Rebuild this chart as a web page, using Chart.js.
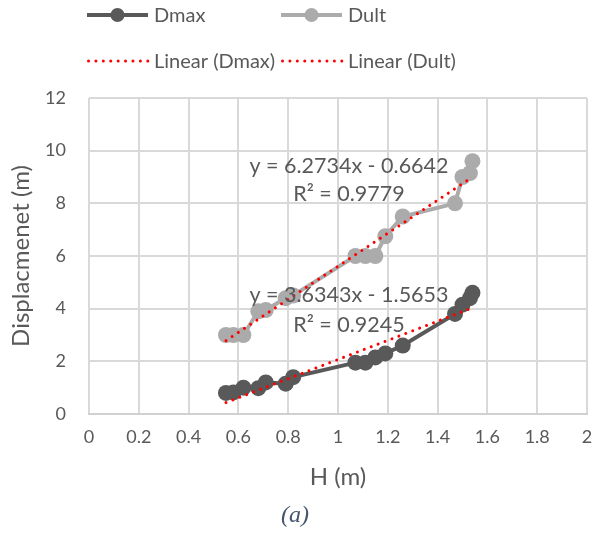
<!DOCTYPE html>
<html>
<head>
<meta charset="utf-8">
<script src="https://cdn.jsdelivr.net/npm/chart.js@4/dist/chart.umd.min.js"></script>
<style>
  html, body { margin: 0; padding: 0; background: #ffffff; }
  #wrap { width: 595px; height: 533px; position: relative; }
</style>
</head>
<body>
<div id="wrap"><canvas id="chart" width="595" height="533"></canvas></div>
<script>
// Wave height H (m) and the two displacement measurements (m)
const heights = [0.55, 0.58, 0.62, 0.68, 0.71, 0.79, 0.82, 1.07, 1.11, 1.15, 1.19, 1.26, 1.47, 1.50, 1.53, 1.54];
const dmax    = [0.80, 0.82, 1.00, 0.98, 1.20, 1.15, 1.40, 1.95, 1.95, 2.15, 2.30, 2.60, 3.80, 4.15, 4.40, 4.60];
const dult    = [3.00, 3.00, 3.00, 3.90, 3.95, 4.40, 4.50, 6.00, 6.00, 6.00, 6.75, 7.50, 8.00, 9.00, 9.15, 9.60];

// Axis ticks
const xTicks = [0, 0.2, 0.4, 0.6, 0.8, 1, 1.2, 1.4, 1.6, 1.8, 2];
const yTicks = [0, 2, 4, 6, 8, 10, 12];

// Linear trendlines (y = slope * x + intercept)
const fitDmax = { slope: 3.6343, intercept: -1.5653, r2: 0.9245 };
const fitDult = { slope: 6.2734, intercept: -0.6642, r2: 0.9779 };

const TEXT = '#595959';
const DMAX_COLOR = '#595959';
const DULT_COLOR = '#ABABAB';
const TREND_COLOR = '#FF0000';
const DOTS = [0.01, 7.4];

function points(xs, ys) { return xs.map((x, i) => ({ x: x, y: ys[i] })); }
function trend(fit, xs) {
  const lo = Math.min(...xs), hi = Math.max(...xs);
  return [lo, hi].map(x => ({ x: x, y: fit.slope * x + fit.intercept }));
}
function fmt(v) { return v.toFixed(4); }
function equation(fit) {
  const sign = fit.intercept < 0 ? ' - ' : ' + ';
  return 'y = ' + fmt(fit.slope) + 'x' + sign + fmt(Math.abs(fit.intercept));
}

// Legend: two rows, line-with-marker swatches and dotted trend swatches
const legendPlugin = {
  id: 'excelLegend',
  afterDraw(chart) {
    const ctx = chart.ctx;
    const items = [
      { label: 'Dmax', kind: 'series', color: DMAX_COLOR, x: 87, y: 15 },
      { label: 'Dult', kind: 'series', color: DULT_COLOR, x: 281, y: 15 },
      { label: 'Linear (Dmax)', kind: 'trend', color: TREND_COLOR, x: 87, y: 61 },
      { label: 'Linear (Dult)', kind: 'trend', color: TREND_COLOR, x: 281, y: 61 }
    ];
    ctx.save();
    items.forEach(it => {
      const w = 61;
      ctx.beginPath();
      ctx.strokeStyle = it.color;
      if (it.kind === 'series') {
        ctx.lineWidth = 4;
        ctx.setLineDash([]);
        ctx.lineCap = 'butt';
        ctx.moveTo(it.x, it.y); ctx.lineTo(it.x + w, it.y);
        ctx.stroke();
        ctx.beginPath();
        ctx.fillStyle = it.color;
        ctx.arc(it.x + w / 2, it.y, 7, 0, Math.PI * 2);
        ctx.fill();
      } else {
        ctx.lineWidth = 3;
        ctx.lineCap = 'round';
        ctx.setLineDash(DOTS);
        ctx.moveTo(it.x + 1.5, it.y); ctx.lineTo(it.x + w, it.y);
        ctx.stroke();
      }
      ctx.setLineDash([]);
      ctx.fillStyle = TEXT;
      ctx.font = '20px Lato';
      ctx.textAlign = 'left';
      ctx.textBaseline = 'middle';
      ctx.fillText(it.label, it.x + w + 6, it.y + 1);
    });
    ctx.restore();
  }
};

// Trendline equations, and the figure caption under the axis
const annotationPlugin = {
  id: 'trendLabels',
  afterDraw(chart) {
    const ctx = chart.ctx;
    const sx = chart.scales.x, sy = chart.scales.y;
    const labels = [
      { fit: fitDult, x: 1.044, y1: 9.43, y2: 8.37 },
      { fit: fitDmax, x: 1.044, y1: 4.53, y2: 3.39 }
    ];
    ctx.save();
    ctx.fillStyle = TEXT;
    ctx.font = '21.5px Lato';
    ctx.textAlign = 'center';
    ctx.textBaseline = 'middle';
    labels.forEach(l => {
      const px = sx.getPixelForValue(l.x);
      ctx.fillText(equation(l.fit), px, sy.getPixelForValue(l.y1));
      ctx.fillText('R\u00B2 = ' + fmt(l.fit.r2), px, sy.getPixelForValue(l.y2));
    });
    ctx.fillStyle = '#44546A';
    ctx.font = 'italic 24px "Liberation Serif"';
    ctx.fillText('(a)', 295, 516);
    ctx.restore();
  }
};

function build() {
  const ctx = document.getElementById('chart').getContext('2d');
  new Chart(ctx, {
    type: 'scatter',
    data: {
      datasets: [
        {
          label: 'Linear (Dmax)', data: trend(fitDmax, heights), showLine: true,
          borderColor: TREND_COLOR, borderWidth: 3, borderDash: DOTS, borderCapStyle: 'round',
          pointRadius: 0, order: 0
        },
        {
          label: 'Linear (Dult)', data: trend(fitDult, heights), showLine: true,
          borderColor: TREND_COLOR, borderWidth: 3, borderDash: DOTS, borderCapStyle: 'round',
          pointRadius: 0, order: 0
        },
        {
          label: 'Dmax', data: points(heights, dmax), showLine: true,
          borderColor: DMAX_COLOR, backgroundColor: DMAX_COLOR, borderWidth: 4,
          pointRadius: 8, pointBorderWidth: 0, pointBackgroundColor: DMAX_COLOR, order: 1
        },
        {
          label: 'Dult', data: points(heights, dult), showLine: true,
          borderColor: DULT_COLOR, backgroundColor: DULT_COLOR, borderWidth: 4,
          pointRadius: 8, pointBorderWidth: 0, pointBackgroundColor: DULT_COLOR, order: 1
        }
      ]
    },
    options: {
      responsive: false,
      animation: false,
      devicePixelRatio: 1,
      layout: { padding: { top: 98, right: 1, left: 0, bottom: 0 } },
      plugins: { legend: { display: false }, tooltip: { enabled: false } },
      scales: {
        x: {
          type: 'linear', min: 0, max: 2,
          afterBuildTicks: s => { s.ticks = xTicks.map(v => ({ value: v })); },
          afterFit: s => { s.height = 119; s.paddingRight = 0; },
          ticks: { color: TEXT, font: { size: 18, family: 'Lato' }, padding: 12, maxRotation: 0,
                   callback: v => String(+v.toFixed(1)) },
          grid: { color: '#D9D9D9', lineWidth: 2, drawTicks: false },
          border: { display: true, color: '#D0D0D0', width: 2 },
          title: { display: true, text: 'H (m)', color: TEXT, font: { size: 24, family: 'Lato' },
                   padding: { top: 4, bottom: 41 } }
        },
        y: {
          type: 'linear', min: 0, max: 12,
          afterBuildTicks: s => { s.ticks = yTicks.map(v => ({ value: v })); },
          afterFit: s => { s.width = 89; },
          ticks: { color: TEXT, font: { size: 18, family: 'Lato' }, padding: 23 },
          grid: { color: '#D9D9D9', lineWidth: 2, drawTicks: false },
          border: { display: false },
          title: { display: true, text: 'Displacmenet (m)', color: TEXT, font: { size: 24, family: 'Lato' },
                   padding: { top: 7, bottom: 4 } }
        }
      }
    },
    plugins: [legendPlugin, annotationPlugin]
  });
}

if (document.fonts && document.fonts.load) {
  Promise.all([
    document.fonts.load('18px Lato'),
    document.fonts.load('italic 24px "Liberation Serif"')
  ]).then(build, build);
} else {
  build();
}
</script>
</body>
</html>
